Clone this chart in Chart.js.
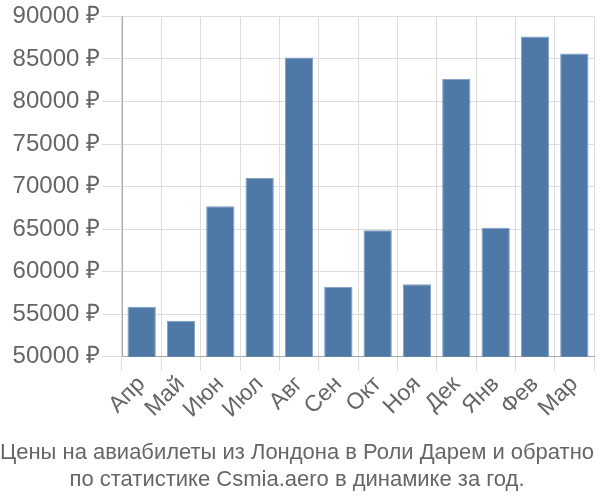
<!DOCTYPE html>
<html>
  <head>
    <style>
      body { margin: 0; background: #fff; }
      #wrap { width: 600px; height: 500px; }
    </style>
    <script src="https://cdn.jsdelivr.net/npm/chart.js"></script>
  </head>
  <body>
    <div id="wrap"><canvas id="chart"></canvas></div>
    <script>
      const months = ["Апр", "Май", "Июн", "Июл", "Авг", "Сен", "Окт", "Ноя", "Дек", "Янв", "Фев", "Мар"];
      const prices = [55880, 54230, 67700, 71000, 85180, 58230, 64880, 58530, 82680, 65160, 87650, 85650];
      const titleLines = [
        "Цены на авиабилеты из Лондона в Роли Дарем и обратно",
        "по статистике Csmia.aero в динамике за год."
      ];

      const font = "'Liberation Sans', Arial, sans-serif";

      new Chart(document.getElementById("chart"), {
        type: "bar",
        data: {
          labels: months,
          datasets: [
            {
              data: prices,
              backgroundColor: "#4e79a7",
              borderColor: "#7f9fc4",
              borderWidth: 1,
              categoryPercentage: 0.8,
              barPercentage: 0.9,
            },
          ],
        },
        options: {
          responsive: true,
          maintainAspectRatio: false,
          animation: false,
          layout: { padding: { left: 0, right: 6, top: 0, bottom: 0 } },
          plugins: {
            legend: { display: false },
            tooltip: { enabled: false },
            title: {
              display: true,
              position: "bottom",
              text: titleLines,
              color: "#666",
              font: { family: font, size: 22, weight: "normal", lineHeight: 1.22 },
              padding: { top: 16, bottom: 7 },
            },
          },
          scales: {
            x: {
              grid: { color: "#ddd", offset: true, tickLength: 14 },
              border: { color: "#aaa" },
              ticks: {
                color: "#666",
                font: { family: font, size: 23 },
                maxRotation: 45,
                minRotation: 45,
                autoSkip: false,
                padding: 0,
              },
            },
            y: {
              min: 50000,
              max: 90000,
              afterFit: (scale) => { scale.width = 122; },
              grid: { color: "#ddd", tickLength: 20 },
              border: { color: "#aaa" },
              ticks: {
                stepSize: 5000,
                color: "#666",
                font: { family: font, size: 24 },
                padding: 2,
                callback: (v) => v + " ₽",
              },
            },
          },
        },
      });
    </script>
  </body>
</html>
